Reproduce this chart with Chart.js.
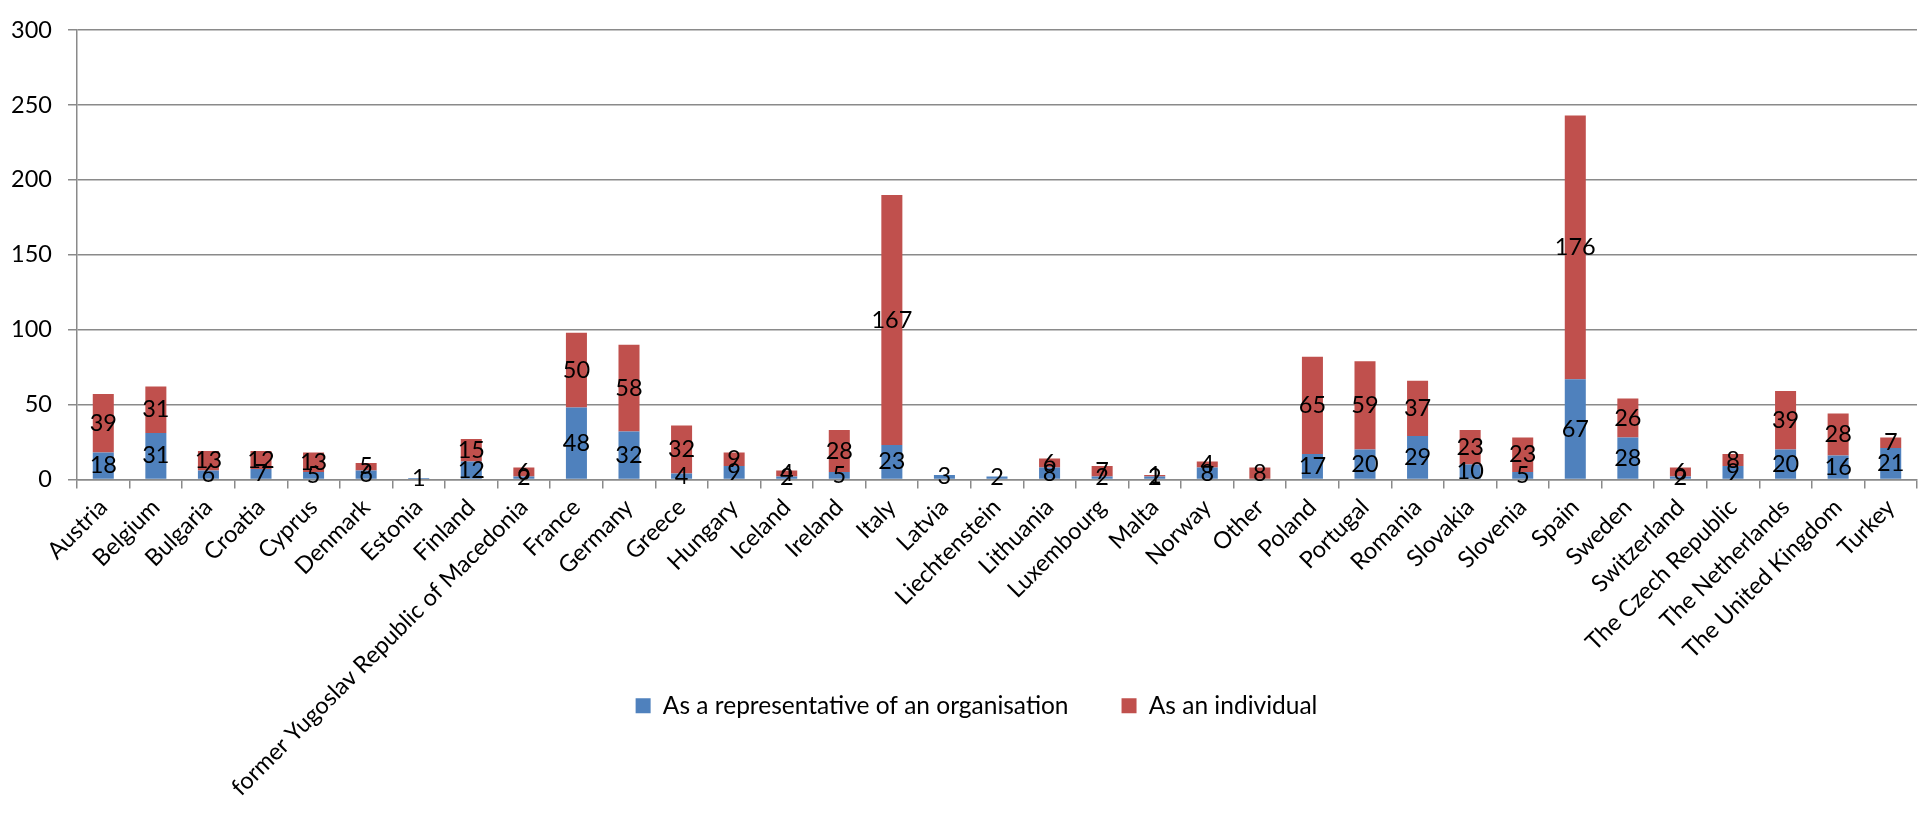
<!DOCTYPE html>
<html>
<head>
<meta charset="utf-8">
<script src="https://cdn.jsdelivr.net/npm/chart.js@4.4.0/dist/chart.umd.min.js"></script>
<style>
html,body{margin:0;padding:0;background:#ffffff;}
#wrap{width:1919px;height:822px;}
</style>
</head>
<body>
<div id="wrap"><canvas id="c" width="1919" height="822" style="width:1919px;height:822px"></canvas></div>
<script>
const categories = ["Austria","Belgium","Bulgaria","Croatia","Cyprus","Denmark","Estonia","Finland","former Yugoslav Republic of Macedonia","France","Germany","Greece","Hungary","Iceland","Ireland","Italy","Latvia","Liechtenstein","Lithuania","Luxembourg","Malta","Norway","Other","Poland","Portugal","Romania","Slovakia","Slovenia","Spain","Sweden","Switzerland","The Czech Republic","The Netherlands","The United Kingdom","Turkey"];
const organisation = [18,31,6,7,5,6,1,12,2,48,32,4,9,2,5,23,3,2,8,2,2,8,null,17,20,29,10,5,67,28,2,9,20,16,21];
const individual = [39,31,13,12,13,5,null,15,6,50,58,32,9,4,28,167,null,null,6,7,1,4,8,65,59,37,23,23,176,26,6,8,39,28,7];
const seriesNames = ["As a representative of an organisation","As an individual"];
const yMin = 0, yMax = 300, yStep = 50;

const FONT = "Lato";
const GRID = "#8a8a8a";

const valueLabels = {
  id: "valueLabels",
  afterDatasetsDraw(chart) {
    const ctx = chart.ctx;
    ctx.save();
    ctx.font = "23.5px " + FONT;
    ctx.fillStyle = "#000000";
    ctx.textAlign = "center";
    ctx.textBaseline = "middle";
    chart.data.datasets.forEach((ds, i) => {
      const meta = chart.getDatasetMeta(i);
      meta.data.forEach((bar, j) => {
        const v = ds.data[j];
        if (v === null || v === undefined) return;
        const p = bar.getProps(["x", "y", "base"], true);
        ctx.fillText(String(v), p.x, (p.y + p.base) / 2);
      });
    });
    ctx.restore();
  }
};

new Chart(document.getElementById("c"), {
  type: "bar",
  data: {
    labels: categories,
    datasets: [
      { label: seriesNames[0], data: organisation, backgroundColor: "#4F81BD", borderWidth: 0 },
      { label: seriesNames[1], data: individual, backgroundColor: "#C0504D", borderWidth: 0 }
    ]
  },
  options: {
    responsive: false,
    animation: false,
    devicePixelRatio: 1,
    categoryPercentage: 1.0,
    barPercentage: 0.4,
    layout: { padding: { left: 36, right: 2, top: 15, bottom: 94 } },
    plugins: {
      tooltip: { enabled: false },
      legend: {
        position: "bottom",
        labels: {
          boxWidth: 15, boxHeight: 15, padding: 53,
          color: "#000000",
          font: { family: FONT, size: 24.5 }
        }
      }
    },
    scales: {
      x: {
        stacked: true,
        offset: true,
        afterFit(scale) {
          scale.height = 161;
          scale._computeLabelArea = function () { return undefined; };
        },
        grid: { display: true, drawOnChartArea: false, drawTicks: true, tickLength: 9, offset: true, color: GRID, lineWidth: 1.5 },
        border: { display: true, color: GRID, width: 1.5 },
        ticks: {
          autoSkip: false, maxRotation: 45, minRotation: 45, padding: 5,
          color: "#000000", font: { family: FONT, size: 23.5 }
        }
      },
      y: {
        stacked: true,
        min: yMin, max: yMax,
        afterFit(scale) {
          scale.width = 41;
          scale._computeLabelArea = function () { return undefined; };
        },
        grid: { color: GRID, lineWidth: 1.5, drawTicks: true, tickLength: 9 },
        border: { display: true, color: GRID, width: 1.5 },
        ticks: { stepSize: yStep, padding: 16, color: "#000000", font: { family: FONT, size: 23.5 } }
      }
    }
  },
  plugins: [valueLabels]
});
</script>
</body>
</html>
